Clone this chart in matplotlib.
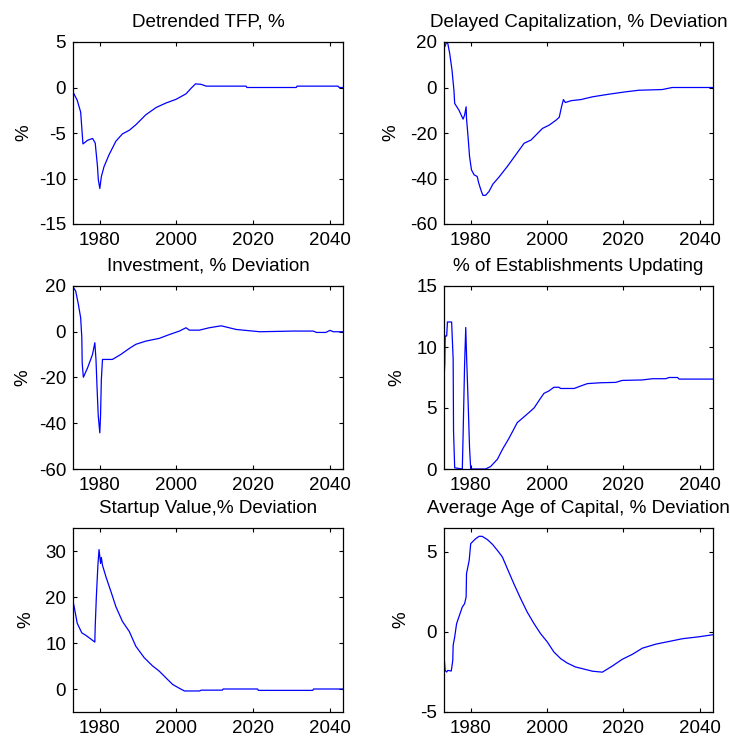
import matplotlib
matplotlib.use('Agg')
import matplotlib.pyplot as plt

#########################################################

TITLES = ['Detrended TFP, %', 'Delayed Capitalization, % Deviation',
          'Investment, % Deviation', '% of Establishments Updating',
          'Startup Value,% Deviation', 'Average Age of Capital, % Deviation']

X_TICKS = [1980, 2000, 2020, 2040]

tfp_year = [1973.0, 1974.1, 1975.0, 1975.6, 1976.8, 1978.1, 1978.8, 1979.4, 1979.6, 1980.0,
            1980.4, 1981.1, 1982.4, 1984.2, 1985.9, 1987.7, 1989.4, 1992.0, 1994.7, 1997.3,
            1999.9, 2002.5, 2003.8, 2005.0, 2006.4, 2007.8, 2018.2, 2018.4, 2031.3, 2031.5,
            2042.2, 2042.5, 2043.5]
tfp_val = [-0.5, -1.4, -2.7, -6.2, -5.8, -5.6, -6.1, -8.7, -10.1, -11.1,
           -9.8, -8.7, -7.4, -5.9, -5.1, -4.7, -4.1, -3.0, -2.2, -1.7,
           -1.3, -0.7, -0.1, 0.4, 0.35, 0.15, 0.15, 0.0, 0.0, 0.15,
           0.15, 0.0, 0.0]

cap_year = [1973.0, 1973.7, 1974.0, 1974.5, 1975.1, 1975.6, 1975.8, 1976.9, 1978.0, 1978.4,
            1978.8, 1978.9, 1979.3, 1979.7, 1980.2, 1980.9, 1981.7, 1982.1, 1982.8, 1983.2,
            1983.9, 1984.8, 1985.8, 1987.4, 1989.6, 1991.8, 1994.0, 1995.8, 1997.1, 1998.8,
            2000.6, 2002.4, 2003.2, 2003.8, 2004.3, 2004.8, 2006.3, 2008.9, 2011.9, 2016.0,
            2020.6, 2024.1, 2030.2, 2032.8, 2043.5]
cap_val = [17.1, 20.0, 19.3, 14.9, 7.6, -1.2, -7.0, -9.9, -13.9, -12.1,
           -8.5, -13.6, -21.6, -30.4, -36.2, -38.4, -39.1, -42.0, -45.7, -47.4,
           -47.4, -45.7, -42.5, -39.4, -34.7, -29.6, -24.5, -23.1, -20.9, -18.0,
           -16.5, -14.3, -13.1, -8.5, -5.3, -6.6, -5.8, -5.3, -4.1, -3.0,
           -1.9, -1.2, -0.9, 0.0, 0.0]

inv_year = [1973.0, 1973.7, 1974.4, 1975.0, 1975.3, 1975.4, 1975.7, 1976.8, 1978.1, 1978.7,
            1979.0, 1979.3, 1979.6, 1980.0, 1980.2, 1980.4, 1980.7, 1983.3, 1985.5, 1987.7,
            1989.4, 1992.0, 1995.5, 1998.2, 2000.8, 2002.5, 2003.4, 2006.0, 2008.6, 2011.7,
            2015.6, 2021.8, 2030.5, 2035.7, 2036.6, 2039.0, 2040.1, 2041.0, 2043.5]
inv_val = [19.6, 17.8, 12.0, 6.1, -2.6, -13.6, -19.9, -15.8, -9.9, -4.8,
           -12.1, -25.3, -36.9, -44.2, -36.2, -20.9, -12.1, -12.1, -9.9, -7.3,
           -5.5, -4.1, -2.9, -1.2, 0.3, 1.75, 0.7, 0.7, 1.75, 2.6,
           1.0, 0.0, 0.3, 0.3, -0.3, -0.3, 0.6, 0.0, 0.0]

upd_year = [1973.0, 1973.2, 1973.3, 1973.7, 1973.9, 1975.0, 1975.4, 1975.5, 1975.8, 1977.8,
            1978.0, 1978.4, 1978.7, 1978.9, 1979.3, 1979.7, 1980.0, 1983.9, 1985.2, 1987.0,
            1988.3, 1990.0, 1992.2, 1994.8, 1996.6, 1998.3, 1999.2, 2000.5, 2001.8, 2003.1,
            2003.6, 2007.1, 2008.8, 2010.6, 2014.1, 2018.0, 2019.7, 2025.0, 2027.6, 2031.1,
            2032.0, 2034.2, 2034.6, 2043.5]
upd_val = [7.3, 8.6, 10.9, 10.9, 12.05, 12.05, 9.0, 3.1, 0.1, 0.0,
           2.7, 8.6, 11.6, 9.4, 5.7, 1.7, 0.0, 0.0, 0.2, 0.8,
           1.6, 2.5, 3.8, 4.5, 5.0, 5.8, 6.2, 6.4, 6.7, 6.7,
           6.6, 6.6, 6.8, 7.0, 7.07, 7.1, 7.26, 7.3, 7.4, 7.4,
           7.5, 7.5, 7.37, 7.37]

startup_year = [1973.0, 1973.3, 1974.1, 1975.3, 1976.3, 1977.6, 1978.7, 1978.8, 1979.1, 1979.5,
                1979.8, 1980.2, 1980.4, 1980.7, 1981.6, 1982.9, 1984.2, 1985.9, 1987.7, 1989.4,
                1991.6, 1993.8, 1995.5, 1997.3, 1999.0, 2000.8, 2002.1, 2006.0, 2006.5, 2012.0,
                2012.2, 2021.2, 2021.4, 2035.6, 2035.8, 2043.5]
startup_val = [19.0, 17.9, 14.3, 12.2, 11.7, 10.9, 10.2, 13.6, 20.1, 26.9,
               30.3, 27.3, 28.6, 26.9, 24.4, 21.2, 17.9, 14.7, 12.5, 9.3,
               6.8, 5.0, 3.9, 2.4, 1.0, 0.14, -0.43, -0.43, -0.25, -0.25,
               0.0, 0.0, -0.3, -0.3, 0.0, 0.0]

age_year = [1973.0, 1973.3, 1973.7, 1974.0, 1974.9, 1975.3, 1975.4, 1975.8, 1976.3, 1976.9,
            1977.8, 1978.4, 1978.8, 1978.9, 1979.6, 1980.0, 1980.7, 1981.3, 1982.2, 1983.0,
            1984.4, 1985.7, 1987.0, 1988.3, 1989.6, 1991.3, 1993.1, 1994.8, 1996.6, 1998.3,
            2000.1, 2001.8, 2003.6, 2005.3, 2007.5, 2008.4, 2011.9, 2014.5, 2017.1, 2019.7,
            2022.4, 2025.0, 2028.5, 2032.0, 2035.5, 2039.8, 2043.5]
age_val = [-1.46, -2.4, -2.5, -2.4, -2.44, -1.77, -0.83, -0.31, 0.52, 0.94,
           1.56, 1.77, 2.19, 3.65, 4.48, 5.52, 5.69, 5.83, 5.98, 5.98,
           5.77, 5.48, 5.1, 4.69, 3.96, 3.02, 2.08, 1.25, 0.52, -0.1,
           -0.63, -1.25, -1.67, -1.94, -2.19, -2.24, -2.45, -2.51, -2.13, -1.71,
           -1.39, -1.01, -0.76, -0.59, -0.42, -0.3, -0.17]

Y_LIMS = [(-15, 5), (-60, 20), (-60, 20), (0, 15), (-5, 35), (-5, 6.5)]
Y_TICKS = [[-15, -10, -5, 0, 5], [-60, -40, -20, 0, 20], [-60, -40, -20, 0, 20],
           [0, 5, 10, 15], [0, 10, 20, 30], [-5, 0, 5]]

SERIES = [(tfp_year, tfp_val), (cap_year, cap_val), (inv_year, inv_val),
          (upd_year, upd_val), (startup_year, startup_val), (age_year, age_val)]

#########################################################

plt.rcParams['font.family'] = ['Liberation Sans', 'DejaVu Sans']
plt.rcParams['font.size'] = 13.5
plt.rcParams['axes.unicode_minus'] = False

fig = plt.figure(figsize=(7.3, 7.42), dpi=100)

W, H = 730.0, 742.0
col_left = [73, 444]
col_width = [270, 269]
row_top = [42, 286, 528]
row_height = [182, 183, 184]
ylabel_x = [23.5, 390.5, 22.5, 396.5, 25.5, 400.5]   # pixel centre of the "%" labels

for i, (years, vals) in enumerate(SERIES):
    r, c = divmod(i, 2)
    ax = fig.add_axes([col_left[c] / W, 1 - (row_top[r] + row_height[r]) / H,
                       col_width[c] / W, row_height[r] / H])
    ax.plot(years, vals, color=(0, 0, 1), linewidth=0.9)
    ax.set_xlim(1973, 2043.5)
    ax.set_ylim(*Y_LIMS[i])
    ax.set_xticks(X_TICKS)
    ax.set_yticks(Y_TICKS[i])
    ax.tick_params(direction='in', length=3, width=0.8, top=True, right=True,
                   colors='black', labelsize=13.5)
    ax.tick_params(axis='x', pad=6)
    ax.tick_params(axis='y', pad=5)
    for s in ax.spines.values():
        s.set_linewidth(0.9)
    ax.set_title(TITLES[i], pad=11, fontsize=13.6)
    ax.set_ylabel('%', va='center')
    ax.yaxis.set_label_coords((ylabel_x[i] - col_left[c]) / col_width[c], 0.5)

plt.savefig('out.png', dpi=100)
print('Job finished')
